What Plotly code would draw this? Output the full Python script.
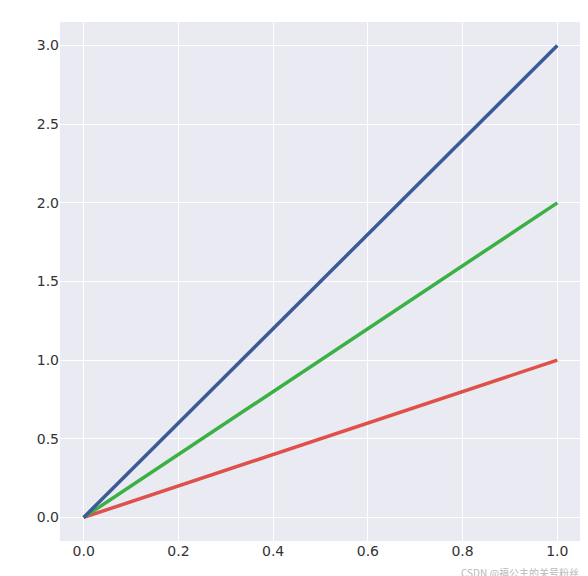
import plotly.graph_objects as go

x = [0, 1]
red_y = [0, 1]
green_y = [0, 2]
blue_y = [0, 3]

fig = go.Figure()
for ys, col in [(red_y, '#e0504a'), (green_y, '#3bb043'), (blue_y, '#3c5a98')]:
    fig.add_trace(go.Scatter(x=x, y=ys, mode='lines', line=dict(color=col, width=3.5)))

fig.update_layout(
    width=588, height=576,
    margin=dict(l=52, r=15, t=14, b=43, autoexpand=False),
    plot_bgcolor='#eaeaf2', paper_bgcolor='white',
    showlegend=False,
    font=dict(family='DejaVu Sans', size=14, color='#333333'),
)
fig.update_xaxes(range=[-0.05, 1.05], tickvals=[0, 0.2, 0.4, 0.6, 0.8, 1.0],
                 tickformat='.1f', gridcolor='white', gridwidth=1.3, zeroline=False,
                 showline=False, ticks='', automargin=False)
fig.update_yaxes(range=[-0.15, 3.15], tickvals=[0, 0.5, 1.0, 1.5, 2.0, 2.5, 3.0],
                 tickformat='.1f', gridcolor='white', gridwidth=1.3, zeroline=False,
                 showline=False, ticks='', automargin=False)
fig.add_annotation(text='CSDN @福公主的关号粉丝', xref='paper', yref='paper',
                   x=1.0, y=-0.06, xanchor='right', yanchor='middle', showarrow=False,
                   font=dict(family='Noto Sans CJK SC', size=10, color='#b8b8b8'))
fig.write_html("out.html")
